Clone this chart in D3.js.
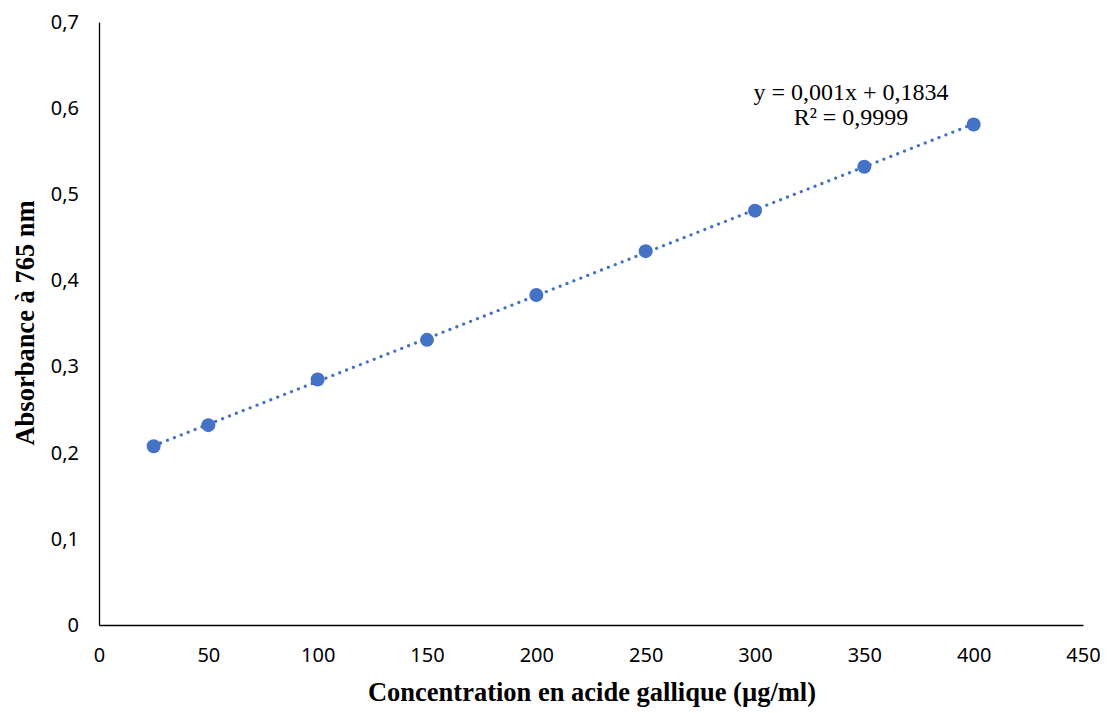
<!DOCTYPE html>
<html>
<head>
<meta charset="utf-8">
<script src="https://cdn.jsdelivr.net/npm/d3@7"></script>
<style>
  body { margin: 0; background: #fff; }
  svg { display: block; }
</style>
</head>
<body>
<div id="chart"></div>
<script>
// data
const concentrations = [25, 50, 100, 150, 200, 250, 300, 350, 400];
const absorbances = [0.2075, 0.232, 0.285, 0.331, 0.383, 0.434, 0.481, 0.532, 0.581];
const xTicks = [0, 50, 100, 150, 200, 250, 300, 350, 400, 450];
const yTicks = [0, 0.1, 0.2, 0.3, 0.4, 0.5, 0.6, 0.7];
const equationLines = ["y = 0,001x + 0,1834", "R² = 0,9999"];

const width = 1109, height = 713;
const margin = { top: 22, right: 26, bottom: 88, left: 99 };

const svg = d3.select("#chart").append("svg")
    .attr("width", width)
    .attr("height", height);

const x = d3.scaleLinear().domain([0, 450]).range([margin.left, width - margin.right]);
const y = d3.scaleLinear().domain([0, 0.7]).range([height - margin.bottom, margin.top]);

const fmt = d => d === 0 ? "0" : d3.format(".1f")(d).replace(".", ",");

// axes
const xAxis = svg.append("g")
    .attr("transform", `translate(0,${y(0)})`)
    .call(d3.axisBottom(x).tickValues(xTicks).tickSize(0).tickPadding(23));
const yAxis = svg.append("g")
    .attr("transform", `translate(${x(0)},0)`)
    .call(d3.axisLeft(y).tickValues(yTicks).tickFormat(fmt).tickSize(0).tickPadding(20));

[xAxis, yAxis].forEach(g => {
  g.select(".domain").attr("stroke", "#000").attr("stroke-width", 1.3);
  g.selectAll("text")
    .attr("font-family", "'Noto Sans', 'Open Sans', sans-serif")
    .attr("font-size", 20)
    .attr("fill", "#000");
});

// trendline (least squares fit of the points)
const mx = d3.mean(concentrations), my = d3.mean(absorbances);
const slope = d3.sum(concentrations, (c, i) => (c - mx) * (absorbances[i] - my)) /
              d3.sum(concentrations, c => (c - mx) * (c - mx));
const intercept = my - slope * mx;
const x0 = d3.min(concentrations), x1 = d3.max(concentrations);

svg.append("line")
    .attr("x1", x(x0)).attr("y1", y(slope * x0 + intercept))
    .attr("x2", x(x1)).attr("y2", y(slope * x1 + intercept))
    .attr("stroke", "#4472C4")
    .attr("stroke-width", 3.2)
    .attr("stroke-linecap", "round")
    .attr("stroke-dasharray", "0.1,7.3");

// points
svg.append("g")
  .selectAll("circle")
  .data(concentrations)
  .join("circle")
    .attr("cx", d => x(d))
    .attr("cy", (d, i) => y(absorbances[i]))
    .attr("r", 7)
    .attr("fill", "#4472C4");

// equation label
svg.append("text")
    .attr("x", 851).attr("y", 100)
    .attr("text-anchor", "middle")
    .attr("font-family", "'Liberation Serif', 'Times New Roman', serif")
    .attr("font-size", 24)
  .selectAll("tspan")
  .data(equationLines)
  .join("tspan")
    .attr("x", 851)
    .attr("dy", (d, i) => i === 0 ? 0 : 25)
    .text(d => d);

// axis titles
svg.append("text")
    .attr("x", 592)
    .attr("y", 701)
    .attr("text-anchor", "middle")
    .attr("font-family", "'Liberation Serif', 'Times New Roman', serif")
    .attr("font-weight", "bold")
    .attr("font-size", 26.5)
    .text("Concentration en acide gallique (µg/ml)");

svg.append("text")
    .attr("transform", `translate(34,${323}) rotate(-90)`)
    .attr("text-anchor", "middle")
    .attr("font-family", "'Liberation Serif', 'Times New Roman', serif")
    .attr("font-weight", "bold")
    .attr("font-size", 26.5)
    .text("Absorbance à 765 nm");
</script>
</body>
</html>
